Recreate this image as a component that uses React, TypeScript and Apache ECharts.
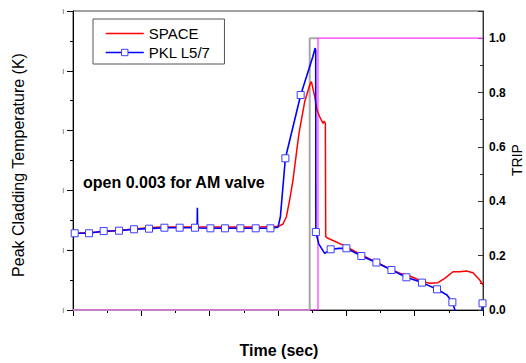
import React, { useEffect, useRef } from "react";
import * as echarts from "echarts";

// PKL L5/7 measured data: time, temperature, marker flag
const pklTime = [0, 2.5, 23.4, 44.9, 67.3, 89.3, 111.2, 133.8, 156.1, 178.5, 181.6, 182, 182.4, 201.1, 222.4, 245, 267.4, 288.9, 300, 303.5, 310.8, 333.2, 350.8, 354.4, 355.2, 355.4, 359.6, 368.3, 377.1, 390, 400.1, 422, 444, 466, 487.9, 510.7, 532.7, 547.3, 555.2, 558.6, 562, 597, 599.3];
const pklTemp = [528, 528.3, 528.3, 532, 532.6, 535, 536, 537.6, 537.6, 537.6, 537.4, 571, 537.2, 536.6, 536.6, 536.6, 536.6, 536.6, 538.3, 556, 653.7, 759.5, 823, 838, 834, 530.4, 510.7, 494.8, 501.5, 503, 503.2, 490.3, 479.4, 466.9, 454.7, 445.8, 434.6, 425, 412.9, 401.2, 385, 385, 411.2];
const pklMarker = [0, 1, 1, 1, 1, 1, 1, 1, 1, 1, 0, 0, 0, 1, 1, 1, 1, 1, 0, 0, 1, 1, 0, 0, 0, 1, 0, 0, 1, 0, 1, 1, 1, 1, 1, 1, 1, 0, 1, 0, 0, 0, 1];

// SPACE calculation
const spaceTime = [0, 45, 90, 110, 130, 200, 270, 300, 307.3, 312.3, 317.1, 322, 326.9, 330.7, 334.2, 339.1, 346.4, 348.9, 353.7, 357.1, 361, 365.9, 367.5, 369.3, 369.8, 373.2, 400.1, 422, 444, 466, 478.1, 492.7, 512.2, 522, 534.2, 544, 556.1, 565.9, 575.7, 585.4, 595.2, 600];
const spaceTemp = [528, 531, 535.5, 537.5, 538.6, 538.6, 538.6, 539.5, 543.8, 556, 584, 617.4, 662, 695.5, 717.7, 748.3, 776.3, 781.8, 756.7, 734.4, 723.2, 712.2, 716, 712, 522.6, 519.9, 505.9, 492, 479.8, 467.5, 461.4, 456.9, 447.3, 444.6, 445.7, 453, 464, 464, 465.2, 462.4, 450.2, 441.8];

// TRIP signals
const tripGrayTime = [0, 346.4, 346.4, 358.5];
const tripGrayValue = [0, 0, 1, 1];
const tripMagentaTime = [0, 358.5, 358.5, 600];
const tripMagentaValue = [0, 0, 1, 1];

const leftTicks = [400, 900, 100];
const rightTicks = [0, 1.1, 0.2];
const timeTicks = [0, 600, 100];

const FONT = "'Liberation Sans', Arial, sans-serif";

export default function App() {
  const ref = useRef<HTMLDivElement>(null);
  useEffect(() => {
    if (!ref.current) return;
    const chart = echarts.init(ref.current, null, { renderer: "svg" });
    const pklData = pklTime.map((t, i) =>
      pklMarker[i]
        ? { value: [t, pklTemp[i]] }
        : { value: [t, pklTemp[i]], symbol: "none" }
    );
    const spaceData = spaceTime.map((t, i) => [t, spaceTemp[i]]);
    const grayData = tripGrayTime.map((t, i) => [t, tripGrayValue[i]]);
    const magData = tripMagentaTime.map((t, i) => [t, tripMagentaValue[i]]);

    chart.setOption({
      animation: false,
      backgroundColor: "#fff",
      grid: {
        left: 73,
        right: 43,
        top: 11,
        bottom: 53,
        show: true,
        borderColor: "#444",
        borderWidth: 1,
      },
      legend: {
        left: 93,
        top: 19,
        orient: "vertical",
        borderColor: "#555",
        borderWidth: 1,
        backgroundColor: "#fff",
        padding: [7, 14, 4, 12],
        itemGap: 4,
        itemWidth: 38,
        itemHeight: 8,
        textStyle: { fontSize: 15, color: "#000", fontFamily: FONT },
        data: [
          {
            name: "SPACE",
            itemStyle: { opacity: 0 },
            lineStyle: { color: "#ff0000", width: 1.5 },
          },
          {
            name: "PKL L5/7",
            itemStyle: { color: "#fff", borderColor: "#3c3cff", borderWidth: 1 },
            lineStyle: { color: "#0000ff", width: 1.5 },
          },
        ],
      },
      xAxis: {
        type: "value",
        min: timeTicks[0],
        max: timeTicks[1],
        interval: timeTicks[2],
        axisLine: { onZero: false, lineStyle: { color: "#000", width: 1 } },
        axisTick: { length: 6, lineStyle: { color: "#000" } },
        minorTick: { show: true, splitNumber: 2, length: 3, lineStyle: { color: "#000" } },
        axisLabel: { show: false },
        splitLine: { show: false },
        minorSplitLine: { show: false },
      },
      yAxis: [
        {
          type: "value",
          position: "left",
          min: leftTicks[0],
          max: leftTicks[1],
          interval: leftTicks[2],
          axisLine: { show: true, lineStyle: { color: "#000", width: 1 } },
          axisTick: { show: true, length: 6, lineStyle: { color: "#000" } },
          minorTick: { show: true, splitNumber: 2, length: 3, lineStyle: { color: "#000" } },
          axisLabel: {
            formatter: () => "|",
            fontSize: 6,
            color: "#000",
            margin: 9,
            fontFamily: FONT,
          },
          splitLine: { show: false },
          minorSplitLine: { show: false },
        },
        {
          type: "value",
          position: "right",
          min: rightTicks[0],
          max: rightTicks[1],
          interval: rightTicks[2],
          axisLine: { show: true, lineStyle: { color: "#333", width: 1 } },
          axisTick: { show: true, inside: true, length: 5, lineStyle: { color: "#333" } },
          minorTick: { show: true, splitNumber: 2, length: 3, lineStyle: { color: "#333" } },
          axisLabel: {
            formatter: (v: number) => (v > 1.05 ? "" : v.toFixed(1)),
            showMaxLabel: false,
            fontSize: 12,
            fontWeight: "bold",
            color: "#000",
            margin: 6,
            fontFamily: FONT,
          },
          splitLine: { show: false },
          minorSplitLine: { show: false },
        },
      ],
      series: [
        {
          name: "TRIP gray",
          type: "line",
          yAxisIndex: 1,
          data: grayData,
          symbol: "none",
          lineStyle: { color: "#a8a8a8", width: 2 },
          z: 1,
        },
        {
          name: "TRIP",
          type: "line",
          yAxisIndex: 1,
          data: magData,
          symbol: "none",
          lineStyle: { color: "#ff33ff", width: 1.2 },
          z: 1,
        },
        {
          name: "PKL L5/7",
          type: "line",
          data: pklData,
          symbol: "rect",
          symbolSize: 7,
          showAllSymbol: true,
          itemStyle: { color: "#fff", borderColor: "#3c3cff", borderWidth: 1 },
          lineStyle: { color: "#0000ff", width: 1.6 },
          clip: true,
          z: 3,
        },
        {
          name: "SPACE",
          type: "line",
          data: spaceData,
          showSymbol: false,
          symbol: "none",
          lineStyle: { color: "#ff0000", width: 1.5 },
          clip: true,
          z: 2,
        },
      ],
      graphic: [
        {
          type: "text",
          x: 18,
          y: 165,
          rotation: Math.PI / 2,
          style: {
            text: "Peak Cladding Temperature (K)",
            font: `16px ${FONT}`,
            fill: "#000",
            align: "center",
            verticalAlign: "middle",
          },
        },
        {
          type: "text",
          x: 517,
          y: 160,
          rotation: Math.PI / 2,
          style: {
            text: "TRIP",
            font: `14px ${FONT}`,
            fill: "#000",
            align: "center",
            verticalAlign: "middle",
          },
        },
        {
          type: "text",
          x: 279,
          y: 350,
          style: {
            text: "Time (sec)",
            font: `bold 16px ${FONT}`,
            fill: "#000",
            align: "center",
            verticalAlign: "middle",
          },
        },
        {
          type: "text",
          x: 83,
          y: 182,
          style: {
            text: "open 0.003 for AM valve",
            font: `bold 16px ${FONT}`,
            fill: "#000",
            align: "left",
            verticalAlign: "middle",
          },
        },
      ],
    });
    return () => chart.dispose();
  }, []);
  return (
    <div
      ref={ref}
      style={{ position: "fixed", left: 0, top: 0, width: 526, height: 363 }}
    />
  );
}
